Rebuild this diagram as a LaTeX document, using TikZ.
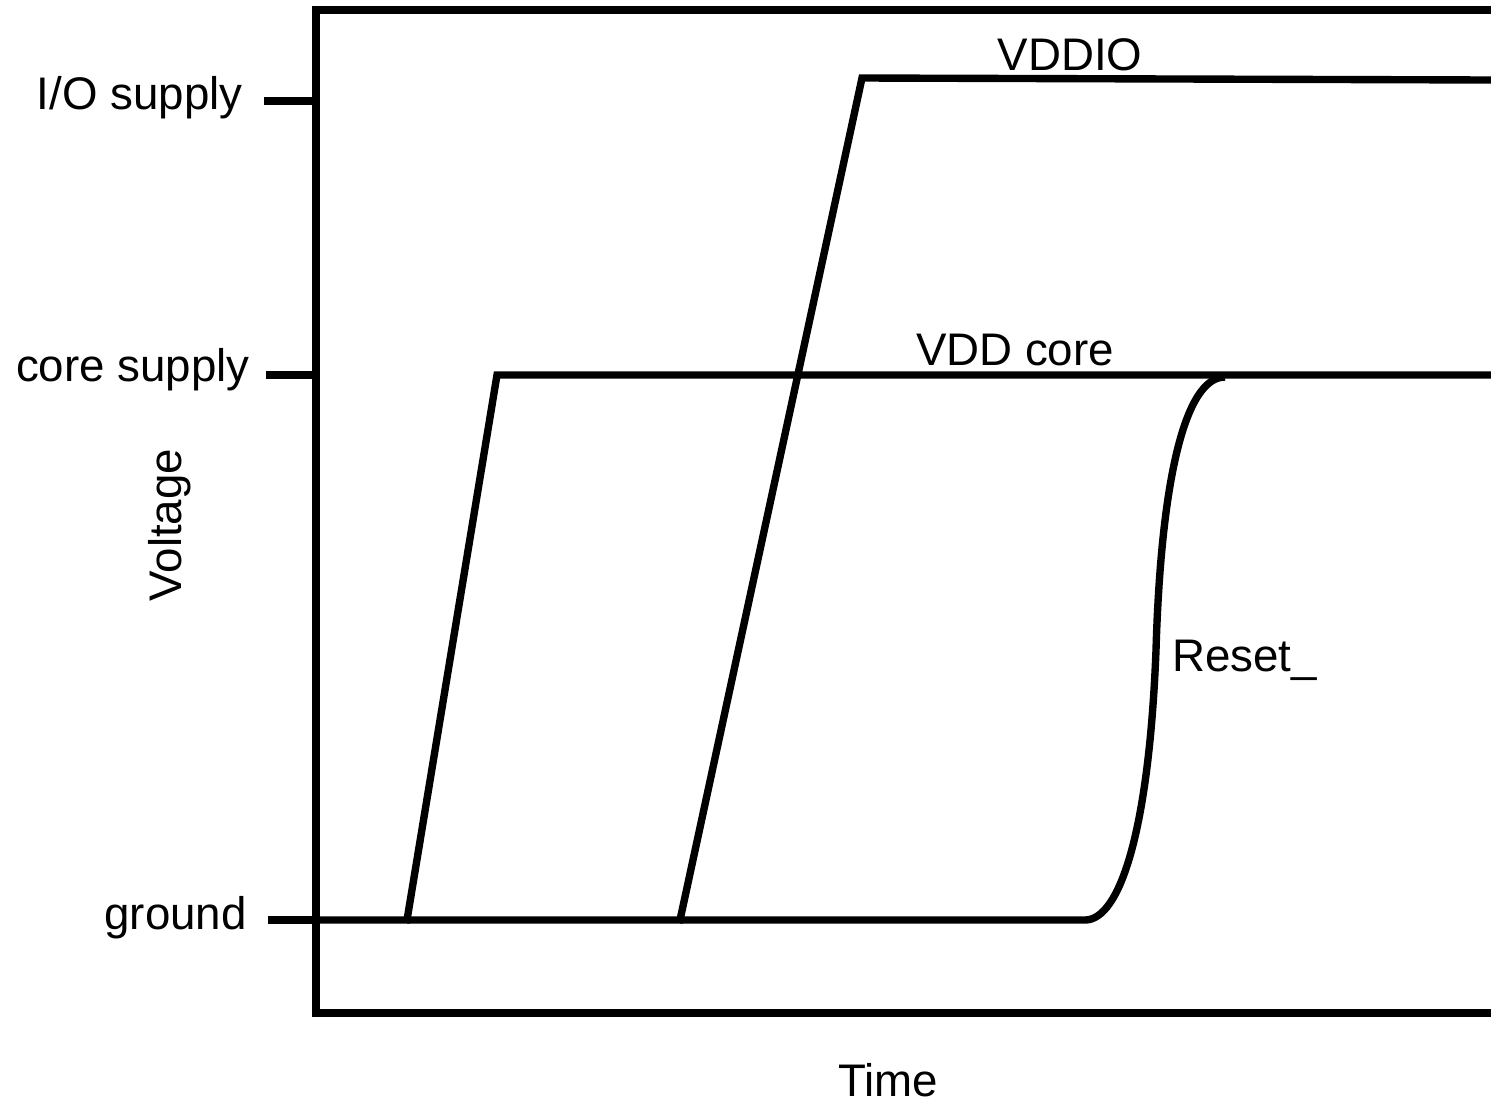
\documentclass[tikz,border=0pt]{standalone}
\usepackage{fontspec}
\setmainfont{Liberation Sans}
\usepackage{tikz}
\usetikzlibrary{positioning,calc}

\tikzset{
  trace/.style={line width=4.2pt,line join=miter},
  lbl/.style={font=\fontsize{26}{31}\selectfont,inner sep=0pt}
}

\begin{document}
\begin{tikzpicture}[x=0.02cm,y=-0.02cm]
  \useasboundingbox (0,0) rectangle (1491,1103);

  % frame and ticks
  \draw[trace] (1491,10) -- (316,10) -- (316,1013) -- (1491,1013);
  \coordinate (io) at (316,101);
  \coordinate (core) at (316,375);
  \coordinate (gnd) at (316,920);
  \draw[trace] (io) -- ++(-52,0) coordinate (iotick);
  \draw[trace] (core) -- ++(-50,0) coordinate (coretick);
  \draw[trace] (gnd) -- ++(-48,0) coordinate (gndtick);

  \node[lbl,anchor=east] (iolbl) at (243,98) {I/O supply};
  \node[lbl,anchor=east] (corelbl) at (250,370) {core supply};
  \node[lbl,anchor=east] (gndlbl) at (247,918) {ground};
  \node[lbl,rotate=90] (vlbl) at (170,525) {Voltage};
  \node[lbl] (tlbl) at (888,1080) {Time};

  % VDD core
  \coordinate (c0) at (407,920);
  \coordinate (c1) at (497,375);
  \draw[trace] (gnd) -- (c0) -- (c1) -- (1491,375);
  \node[lbl] (corename) at (1015,350) {VDD core};

  % VDDIO
  \coordinate (d0) at (680,920);
  \coordinate (d1) at (862,78);
  \draw[trace] (c0) -- (d0) -- (d1) -- (1491,80);
  \node[lbl] (ioname) at (1070,55) {VDDIO};

  % Reset_
  \coordinate (r0) at (1085,920);
  \coordinate (r1) at (1156,650);
  \coordinate (r2) at (1225,377);
  \draw[trace] (d0) -- (r0) .. controls (1120,920) and (1149,830) .. (r1)
    .. controls (1161,480) and (1185,377) .. (r2);
  \node[lbl,anchor=west] (rstname) at (1172,660) {Reset\_};
\end{tikzpicture}
\end{document}
